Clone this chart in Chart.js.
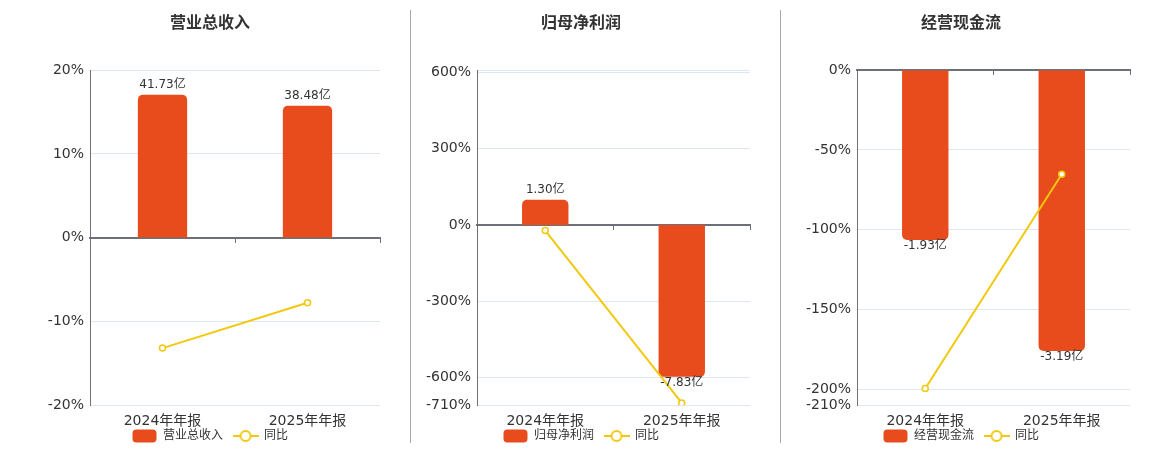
<!DOCTYPE html>
<html><head><meta charset="utf-8">
<script src="https://cdn.jsdelivr.net/npm/chart.js@4/dist/chart.umd.min.js"></script>
<style>
html,body{margin:0;padding:0;background:#fff;}
#wrap{position:relative;width:1160px;height:450px;overflow:hidden}
.panel{position:absolute;top:0;height:450px}
.sep{position:absolute;top:10px;height:433px;width:1px;background:#aaaaaa}
</style></head><body>
<div id="wrap">
 <div class="panel" style="left:0;width:410px"><canvas id="c1"></canvas></div>
 <div class="panel" style="left:410px;width:370px"><canvas id="c2"></canvas></div>
 <div class="panel" style="left:780px;width:380px"><canvas id="c3"></canvas></div>
 <div class="sep" style="left:410px"></div>
 <div class="sep" style="left:780px"></div>
</div>
<script>
const categories = ['2024年年报', '2025年年报'];
const titles = ['营业总收入', '归母净利润', '经营现金流'];
const yoyLabel = '同比';
const unit = '亿';
const revenue = [41.73, 38.48];
const revenueYoy = [-13.2, -7.79];
const netProfit = [1.30, -7.83];
const netProfitYoy = [-22.4, -702];
const cashFlow = [-1.93, -3.19];
const cashFlowYoy = [-199.6, -65.3];
const revenueTicks = [-20, -10, 0, 10, 20];
const netProfitTicks = [-710, -600, -300, 0, 300, 600, 610];
const cashFlowTicks = [-210, -200, -150, -100, -50, 0];

const FONT = "'DejaVu Sans','Noto Sans CJK SC',sans-serif";
Chart.defaults.font.family = FONT;
const BAR = '#E84C1D';
const LINE = '#F2C80F';
const AXIS = '#6e7079';
const GRID = '#e0e6f1';
const TXT = '#333333';

function makeBarIcon() {
  const c = document.createElement('canvas'); c.width = 25; c.height = 14;
  const x = c.getContext('2d'); x.fillStyle = BAR;
  x.beginPath(); x.roundRect(0.5, 0.5, 24, 13, 4); x.fill();
  return c;
}
function makeLineIcon() {
  const c = document.createElement('canvas'); c.width = 26; c.height = 14;
  const x = c.getContext('2d'); x.strokeStyle = LINE; x.lineWidth = 2;
  x.beginPath(); x.moveTo(0, 7); x.lineTo(26, 7); x.stroke();
  x.fillStyle = '#fff'; x.beginPath(); x.arc(13, 7, 5, 0, Math.PI * 2); x.fill(); x.stroke();
  return c;
}
const barIcon = makeBarIcon();
const lineIcon = makeLineIcon();

const barLabelPlugin = {
  id: 'barLabels',
  afterDatasetsDraw(chart) {
    const meta = chart.getDatasetMeta(0);
    const ds = chart.data.datasets[0];
    const ctx = chart.ctx;
    ctx.save();
    ctx.font = '12px ' + FONT; ctx.fillStyle = TXT;
    ctx.textAlign = 'center'; ctx.textBaseline = 'middle';
    meta.data.forEach((bar, i) => {
      const v = ds.data[i];
      const y = v >= 0 ? bar.y - 10 : bar.y + 6;
      ctx.fillText(v.toFixed(2) + unit, bar.x, y);
    });
    ctx.restore();
  }
};

const layoutTweak = {
  id: 'layoutTweak',
  afterLayout(chart) {
    chart.scales.x.bottom = chart.height;
    chart.legend.top += 2;
    chart.legend.bottom += 2;
  }
};

function makeChart(id, title, bars, yoy, ticks, yMin, yMax, k, padL, yW, hideTick) {
  new Chart(document.getElementById(id), {
    data: {
      labels: categories,
      datasets: [
        { type: 'bar', label: title, data: bars, yAxisID: 'yb', backgroundColor: BAR,
          borderRadius: 5, barPercentage: 0.34, categoryPercentage: 1, order: 2 },
        { type: 'line', label: yoyLabel, data: yoy, yAxisID: 'y', borderColor: LINE, borderWidth: 2,
          pointRadius: 3, pointBorderWidth: 1.5, pointBackgroundColor: '#fff', pointBorderColor: LINE,
          tension: 0, order: 1 }
      ]
    },
    options: {
      responsive: true, maintainAspectRatio: false, animation: false,
      layout: { padding: { left: padL, right: 30, top: 0, bottom: 0 } },
      plugins: {
        title: { display: true, text: title, color: TXT, font: { size: 16, weight: 'bold', family: FONT },
          padding: { top: 14, bottom: 37 } },
        legend: { position: 'bottom',
          labels: { usePointStyle: true, pointStyleWidth: 25, padding: 10, color: TXT,
            font: { size: 12, family: FONT },
            generateLabels: chart => chart.data.datasets.map((ds, i) => ({
              text: ds.label, pointStyle: i === 0 ? barIcon : lineIcon, fillStyle: 'transparent',
              strokeStyle: 'transparent', lineWidth: 0, hidden: false, datasetIndex: i, fontColor: TXT })) } },
        tooltip: { enabled: false }
      },
      scales: {
        x: { type: 'category', offset: true, grid: { display: false, drawTicks: false }, border: { display: false },
          ticks: { color: TXT, font: { size: 14 }, padding: 8 },
          afterFit: s => { s.height = 13; } },
        x2: { type: 'category', labels: categories, position: { y: 0 }, offset: true,
          ticks: { display: false },
          grid: { offset: true, drawOnChartArea: false, drawTicks: true, tickLength: 4, color: AXIS, lineWidth: 1 },
          border: { color: AXIS, width: 2 } },
        y: { type: 'linear', position: 'left', min: yMin, max: yMax,
          afterBuildTicks: s => { s.ticks = ticks.map(v => ({ value: v })); },
          ticks: { color: TXT, font: { size: 14 }, padding: 6,
            callback: v => (v === hideTick ? '' : v + '%') },
          grid: { color: GRID, drawTicks: false }, border: { color: AXIS, width: 1 },
          afterFit: s => { s.width = yW; } },
        yb: { type: 'linear', display: false, min: yMin / k, max: yMax / k }
      }
    },
    plugins: [barLabelPlugin, layoutTweak]
  });
}

makeChart('c1', titles[0], revenue, revenueYoy, revenueTicks, -20, 20, 0.409, 40, 50, null);
makeChart('c2', titles[1], netProfit, netProfitYoy, netProfitTicks, -710, 610, 76.5, 2, 65, 610);
makeChart('c3', titles[2], cashFlow, cashFlowYoy, cashFlowTicks, -210, 0, 55.2, 12, 65, null);
</script>
</body></html>
